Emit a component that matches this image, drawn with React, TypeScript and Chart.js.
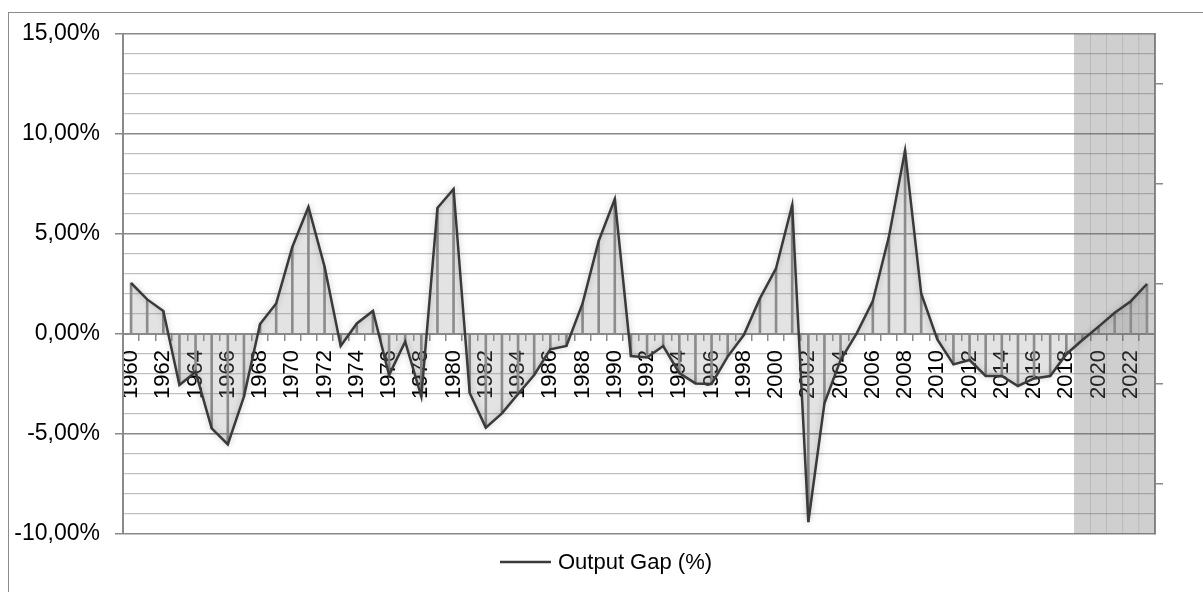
import React, { useEffect, useRef } from 'react';
import { Chart, registerables } from 'chart.js';

Chart.register(...registerables);

const years: string[] = [
  '1960', '1961', '1962', '1963', '1964', '1965', '1966', '1967', '1968', '1969',
  '1970', '1971', '1972', '1973', '1974', '1975', '1976', '1977', '1978', '1979',
  '1980', '1981', '1982', '1983', '1984', '1985', '1986', '1987', '1988', '1989',
  '1990', '1991', '1992', '1993', '1994', '1995', '1996', '1997', '1998', '1999',
  '2000', '2001', '2002', '2003', '2004', '2005', '2006', '2007', '2008', '2009',
  '2010', '2011', '2012', '2013', '2014', '2015', '2016', '2017', '2018', '2019',
  '2020', '2021', '2022', '2023',
];

const outputGap: number[] = [
  2.55, 1.73, 1.15, -2.55, -1.9, -4.72, -5.52, -3.13, 0.5, 1.53,
  4.35, 6.35, 3.37, -0.6, 0.53, 1.15, -2.05, -0.38, -3.13, 6.3,
  7.25, -2.95, -4.68, -3.97, -3.0, -2.05, -0.77, -0.6, 1.53, 4.65,
  6.75, -1.1, -1.17, -0.6, -1.95, -2.47, -2.5, -1.13, -0.05, 1.78,
  3.28, 6.45, -9.4, -3.47, -1.3, 0.03, 1.65, 4.87, 9.17, 2.03,
  -0.27, -1.52, -1.3, -2.1, -2.1, -2.6, -2.22, -2.1, -1.01, -0.3,
  0.37, 1.06, 1.64, 2.5,
];

// forecast years, drawn as a shaded band on the secondary axis
const forecastYears: string[] = ['2019', '2020', '2021', '2022', '2023'];

// left axis range and labelled ticks
const yMin = -10;
const yMax = 15;
const yLabelEvery = 5;

// secondary (right) axis tick positions, 0..1 scale
const rightAxisTicks: number[] = [0.1, 0.3, 0.5, 0.7, 0.9];

const seriesLabel = 'Output Gap (%)';

const FONT = "'Liberation Sans', Arial, Helvetica, sans-serif";

const fmtPct = (v: number) => v.toFixed(2).replace('.', ',') + '%';

export default function App() {
  const ref = useRef<HTMLCanvasElement>(null);

  useEffect(() => {
    if (!ref.current) return;
    const shade = years.map((y) => (forecastYears.includes(y) ? 1 : null));

    const shadowPlugin = {
      id: 'dsShadow',
      beforeDatasetDraw(chart: any, args: any) {
        const ds: any = chart.data.datasets[args.index];
        if (!ds.shadow) return;
        const ctx = chart.ctx;
        ctx.save();
        ctx.shadowColor = ds.shadow.color;
        ctx.shadowBlur = ds.shadow.blur;
        ctx.shadowOffsetX = 0;
        ctx.shadowOffsetY = 0;
      },
      afterDatasetDraw(chart: any, args: any) {
        const ds: any = chart.data.datasets[args.index];
        if (!ds.shadow) return;
        chart.ctx.restore();
      },
    };

    const legendPlugin = {
      id: 'bottomLegend',
      afterDraw(chart: any) {
        const ctx = chart.ctx;
        const ds: any = chart.data.datasets.find((d: any) => d.isMain);
        if (!ds) return;
        const area = chart.chartArea;
        const y = area.bottom + 28;
        ctx.save();
        ctx.font = `22px ${FONT}`;
        const tw = ctx.measureText(ds.label).width;
        const lineW = 51;
        const gap = 7;
        const total = lineW + gap + tw;
        const x0 = chart.width / 2 - total / 2;
        ctx.strokeStyle = ds.borderColor;
        ctx.lineWidth = ds.borderWidth;
        ctx.beginPath();
        ctx.moveTo(x0, y);
        ctx.lineTo(x0 + lineW, y);
        ctx.stroke();
        ctx.fillStyle = '#000';
        ctx.textBaseline = 'middle';
        ctx.textAlign = 'left';
        ctx.fillText(ds.label, x0 + lineW + gap, y + 1);
        ctx.restore();
      },
    };

    const isMajor = (c: any) => c.tick && Math.abs(c.tick.value % yLabelEvery) < 1e-9;

    const chart = new Chart(ref.current, {
      type: 'bar',
      data: {
        labels: years,
        datasets: [
          {
            type: 'bar',
            label: 'Forecast',
            data: shade,
            yAxisID: 'y2',
            backgroundColor: 'rgba(110,110,110,0.33)',
            borderWidth: 0,
            barPercentage: 1,
            categoryPercentage: 1,
            grouped: false,
            order: 4,
          } as any,
          {
            type: 'line',
            label: 'area',
            data: outputGap,
            yAxisID: 'y',
            fill: 'origin',
            backgroundColor: 'rgba(140,140,140,0.24)',
            borderColor: 'rgba(0,0,0,0)',
            borderWidth: 0,
            pointRadius: 0,
            tension: 0,
            order: 3,
            shadow: { color: 'rgba(0,0,0,0.6)', blur: 16 },
          } as any,
          {
            type: 'bar',
            label: 'drop',
            data: outputGap,
            yAxisID: 'y',
            backgroundColor: '#8c8c8c',
            borderWidth: 0,
            barThickness: 2,
            grouped: false,
            order: 2,
          } as any,
          {
            type: 'line',
            label: seriesLabel,
            isMain: true,
            data: outputGap,
            yAxisID: 'y',
            fill: false,
            borderColor: '#3a3a3a',
            borderWidth: 2.5,
            pointRadius: 0,
            tension: 0,
            order: 1,
            shadow: { color: 'rgba(0,0,0,0.25)', blur: 6 },
          } as any,
        ],
      },
      options: {
        responsive: false,
        animation: false,
        devicePixelRatio: 1,
        layout: { padding: { top: 21, left: 0, right: 0, bottom: 58 } },
        plugins: {
          legend: { display: false },
          tooltip: { enabled: false },
        },
        scales: {
          x: {
            type: 'category',
            position: { y: 0 } as any,
            offset: true,
            grid: {
              display: true,
              drawOnChartArea: false,
              drawTicks: true,
              tickLength: 6,
              offset: true,
              color: '#8a8a8a',
              lineWidth: 1.5,
            },
            border: { display: true, color: '#8a8a8a', width: 2 },
            ticks: {
              autoSkip: false,
              minRotation: 90,
              maxRotation: 90,
              padding: 10,
              color: '#000',
              font: { family: FONT, size: 22 },
              callback: (_v: any, i: number) => (i % 2 === 0 ? years[i] : ''),
            },
          },
          y: {
            type: 'linear',
            position: 'left',
            min: yMin,
            max: yMax,
            afterFit(s: any) {
              s.width = 114;
              s.paddingTop = 0;
              s.paddingBottom = 0;
            },
            ticks: {
              stepSize: 1,
              autoSkip: false,
              padding: 15,
              color: '#000',
              font: { family: FONT, size: 23 },
              callback: (v: any) => (Math.abs(Number(v) % yLabelEvery) < 1e-9 ? fmtPct(Number(v)) : ''),
            },
            grid: {
              color: (c: any) => (isMajor(c) ? '#8a8a8a' : '#c0c0c0'),
              lineWidth: (c: any) => (isMajor(c) ? 1.5 : 1.2),
              tickColor: (c: any) => (isMajor(c) ? '#8a8a8a' : 'rgba(0,0,0,0)'),
              tickLength: 8,
            },
            border: { display: true, color: '#8a8a8a', width: 2 },
          },
          y2: {
            type: 'linear',
            position: 'right',
            min: 0,
            max: 1,
            afterBuildTicks(s: any) {
              s.ticks = rightAxisTicks.map((v) => ({ value: v }));
            },
            afterFit(s: any) {
              s.width = 48;
              s.paddingTop = 0;
              s.paddingBottom = 0;
            },
            ticks: { display: false },
            grid: {
              drawOnChartArea: false,
              drawTicks: true,
              tickLength: 8,
              color: '#8a8a8a',
              lineWidth: 1.5,
            },
            border: { display: true, color: '#8a8a8a', width: 2 },
          },
        },
      } as any,
      plugins: [shadowPlugin, legendPlugin],
    });

    return () => chart.destroy();
  }, []);

  return (
    <div
      style={{
        position: 'absolute',
        left: 8,
        top: 12,
        width: 1195,
        height: 580,
        boxSizing: 'border-box',
        borderLeft: '1px solid #8c8c8c',
        borderTop: '1px solid #8c8c8c',
        background: '#fff',
      }}
    >
      <canvas ref={ref} width={1194} height={579} style={{ display: 'block', width: 1194, height: 579 }} />
    </div>
  );
}
